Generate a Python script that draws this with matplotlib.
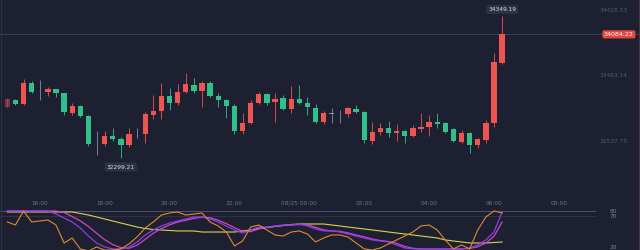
import numpy as np
import matplotlib
matplotlib.use("Agg")
import matplotlib.pyplot as plt
from matplotlib.lines import Line2D

# 15 minute candles, 15:00 -> 06:15
opens = [33039.9, 33136.6, 33078.9, 33386.3, 33252.1, 33252.1, 33291.1, 33233.3, 32953.3, 33050.0,
         32905.6, 32501.4, 32501.4, 32616.9, 32569.3, 32482.7, 32645.8, 32645.8, 32920.1, 32982.1,
         33194.3, 33097.6, 33247.8, 33353.1, 33270.9, 33377.7, 33194.3, 33136.6, 33050.0, 32693.4,
         32800.2, 33097.6, 33223.2, 33107.7, 33161.1, 33002.3, 33146.7, 33097.6, 33016.8, 32823.3,
         32944.6, 32944.6, 32934.5, 33002.3, 32967.7, 32549.1, 32679.0, 32728.1, 32655.9, 32693.4,
         32616.9, 32713.6, 32742.5, 32823.3, 32800.2, 32713.6, 32534.6, 32655.9, 32487.0, 32559.2,
         32800.2, 33666.4]
highs = [33165.5, 33151.0, 33435.4, 33415.2, 33425.3, 33324.3, 33302.6, 33242.0, 33089.0, 33064.4,
         32920.1, 32693.4, 32693.4, 32728.1, 32598.1, 32728.1, 32732.4, 32963.4, 33208.8, 33377.7,
         33309.8, 33367.6, 33530.7, 33449.9, 33415.2, 33415.2, 33233.3, 33151.0, 33078.9, 32944.6,
         33136.6, 33252.1, 33237.7, 33233.3, 33208.8, 33338.7, 33353.1, 33184.2, 33078.9, 32977.8,
         33016.8, 32992.2, 33039.9, 33064.4, 32985.0, 32823.3, 32800.2, 32837.8, 32790.1, 32710.7,
         32775.7, 32953.3, 32920.1, 32944.6, 32823.3, 32732.4, 32703.5, 32674.6, 32588.0, 32847.9,
         33810.8, 34349.19]
lows = [33021.1, 33064.4, 33064.4, 33237.7, 33136.6, 33194.3, 33179.9, 32920.1, 32924.4, 32891.2,
        32472.5, 32342.6, 32472.5, 32549.1, 32299.21, 32453.8, 32588.0, 32511.5, 32862.3, 32862.3,
        32992.2, 33064.4, 33233.3, 33233.3, 33031.2, 33175.6, 33039.9, 32872.4, 32645.8, 32645.8,
        32790.1, 33078.9, 33064.4, 32823.3, 32992.2, 32944.6, 33078.9, 32920.1, 32811.8, 32790.1,
        32800.2, 32800.2, 32895.5, 32948.9, 32511.5, 32501.4, 32631.3, 32598.1, 32549.1, 32511.5,
        32602.5, 32679.0, 32616.9, 32728.1, 32667.4, 32537.5, 32523.1, 32367.2, 32439.3, 32511.5,
        32751.2, 33656.3]
closes = [33146.7, 33078.9, 33386.3, 33252.1, 33247.8, 33291.1, 33233.3, 32963.4, 33050.0, 32905.6,
          32501.4, 32497.1, 32616.9, 32569.3, 32487.0, 32645.8, 32650.1, 32934.5, 32985.0, 33194.3,
          33097.6, 33256.4, 33367.6, 33270.9, 33377.7, 33194.3, 33136.6, 33050.0, 32693.4, 32808.9,
          33089.0, 33223.2, 33097.6, 33146.7, 33002.3, 33146.7, 33097.6, 33031.2, 32823.3, 32953.3,
          32940.3, 32948.9, 33016.8, 32963.4, 32559.2, 32679.0, 32728.1, 32664.5, 32693.4, 32616.9,
          32728.1, 32751.2, 32823.3, 32790.1, 32679.0, 32549.1, 32664.5, 32487.0, 32569.3, 32800.2,
          33689.5, 34084.22]

# indicator lines (same candles)
j_line = [62.2, 57.3, 80.0, 62.2, 63.8, 65.4, 57.3, 28.1, 36.2, 18.4,
          15.1, 21.6, 16.7, 16.7, 18.4, 26.5, 37.8, 52.4, 62.2, 73.5,
          76.8, 78.4, 73.5, 75.1, 76.8, 62.2, 55.7, 46.0, 23.2, 31.3,
          54.0, 57.3, 49.2, 41.1, 39.4, 45.9, 47.6, 42.7, 29.7, 36.2,
          41.1, 41.1, 37.8, 28.1, 18.4, 16.7, 20.0, 26.5, 33.0, 39.4,
          45.9, 55.7, 57.3, 49.2, 33.0, 18.4, 24.9, 18.4, 49.2, 70.3,
          80.0, 76.8]
k_line = [80.0, 80.0, 80.0, 80.0, 80.0, 80.0, 75.1, 68.6, 62.2, 52.4,
          39.4, 28.1, 21.6, 18.4, 18.4, 21.6, 29.7, 41.1, 49.2, 55.7,
          60.5, 63.8, 67.0, 70.3, 70.3, 67.0, 62.2, 55.7, 49.2, 44.3,
          49.2, 54.0, 54.0, 55.7, 57.3, 57.3, 58.9, 55.7, 50.8, 47.6,
          47.6, 45.9, 42.7, 39.4, 36.2, 33.0, 31.3, 29.7, 24.9, 20.0,
          18.4, 18.4, 18.4, 18.4, 18.4, 18.4, 18.4, 20.0, 24.9, 33.0,
          45.9, 78.4]
d_line = [80.0, 80.0, 80.0, 80.0, 80.0, 80.0, 80.0, 77.5, 71.0, 64.0,
          55.0, 44.0, 33.5, 25.5, 20.5, 19.5, 24.5, 34.0, 44.0, 51.5,
          57.5, 62.0, 65.0, 68.0, 70.0, 69.0, 65.0, 59.5, 53.0, 47.0,
          46.5, 51.0, 53.5, 55.0, 56.5, 57.3, 58.0, 57.5, 53.5, 49.5,
          47.6, 47.0, 44.5, 41.0, 38.0, 34.5, 32.0, 30.5, 27.5, 22.5,
          19.5, 18.4, 18.4, 18.4, 18.4, 18.4, 18.4, 19.0, 22.0, 28.0,
          39.0, 62.0]
ma_line = [78.4, 78.4, 78.4, 78.4, 78.4, 78.4, 78.4, 78.4, 78.4, 76.0,
           73.5, 70.3, 67.0, 63.8, 60.5, 57.3, 54.0, 51.6, 50.0, 49.2,
           48.4, 47.6, 47.6, 47.6, 45.9, 45.9, 45.9, 45.9, 45.9, 47.6,
           49.2, 51.6, 53.2, 54.9, 56.5, 58.1, 58.9, 58.9, 58.9, 58.9,
           57.3, 55.7, 54.0, 52.4, 50.8, 49.2, 47.6, 45.9, 44.3, 42.7,
           41.1, 39.4, 37.8, 36.2, 33.0, 31.3, 29.7, 28.1, 28.1, 28.1,
           28.9, 29.7]

time_ticks = [4, 12, 20, 28, 36, 44, 52, 60, 68]
time_labels = ["16:00", "18:00", "20:00", "22:00", "08/25 00:00", "02:00", "04:00", "06:00", "08:00"]
price_ticks = [34428.53, 33483.14, 32537.75]

bg = "#1c2030"
up_c = "#ee5450"
dn_c = "#32c08a"
doji_c = "#8a8f9c"
txt_c = "#6f7587"

fig = plt.figure(figsize=(6.4, 2.5), dpi=100, facecolor=bg)

# main price panel
ax = fig.add_axes([0, 0.172, 1, 0.828])
ax.set_facecolor(bg)
n = len(opens)
x = np.arange(n)
o = np.array(opens); h = np.array(highs); l = np.array(lows); c = np.array(closes)
cols = []
for oo, cc in zip(o, c):
    if abs(cc - oo) < 8:
        cols.append(doji_c)
    elif cc > oo:
        cols.append(up_c)
    else:
        cols.append(dn_c)
alphas = [0.45] + [1.0] * (n - 1)
for i in range(n):
    ax.vlines(x[i], l[i], h[i], color=cols[i], lw=0.6, alpha=alphas[i])
    body = max(abs(c[i] - o[i]), 6)
    ax.bar(x[i], body, bottom=min(o[i], c[i]), width=0.66, color=cols[i],
           alpha=alphas[i], linewidth=0)

ax.set_xlim(-0.9, 78.0)
ax.set_ylim(31592.0, 34580.2)
ax.axis("off")

# current price line + tag
last = closes[-1]
ax.axhline(last, color="#3a3f52", lw=0.7, zorder=0)
ax.text(0.967, last, f"{last:.2f}", transform=ax.get_yaxis_transform(), ha="center", va="center",
        fontsize=4.6, color="white",
        bbox=dict(boxstyle="round,pad=0.25,rounding_size=0.3", fc="#e3463e", ec="none"))

# right price labels
for p in price_ticks:
    ax.text(0.958, p, f"{p:.2f}", transform=ax.get_yaxis_transform(), ha="center", va="center",
            fontsize=4.2, color="#555b6d")

# time labels
for t, lab in zip(time_ticks, time_labels):
    ax.text(t, 0.019, lab, transform=ax.get_xaxis_transform(), ha="center", va="center",
            fontsize=4.2, color=txt_c)

# high / low markers
hi_i = int(np.argmax(h)); lo_i = int(np.argmin(l))
ax.annotate(f"{h[hi_i]:.2f}", xy=(x[hi_i], h[hi_i]), xytext=(x[hi_i], h[hi_i] + 95),
            ha="center", va="center", fontsize=4.2, color="#d4d8e2",
            bbox=dict(boxstyle="round,pad=0.35,rounding_size=0.3", fc="#2c3243", ec="none"))
ax.annotate(f"{l[lo_i]:.2f}", xy=(x[lo_i], l[lo_i]), xytext=(x[lo_i], l[lo_i] - 130),
            ha="center", va="center", fontsize=4.2, color="#d4d8e2",
            bbox=dict(boxstyle="round,pad=0.35,rounding_size=0.3", fc="#2c3243", ec="none"))

# indicator panel
ax2 = fig.add_axes([0, 0, 1, 0.172])
ax2.set_facecolor(bg)
ax2.set_xlim(-0.9, 78.0)
ax2.set_ylim(16.7, 86.5)
ax2.axis("off")
ax2.axhline(80, color="#4b5170", lw=0.7, xmax=0.93)
ax2.axhline(72, color="#30364a", lw=0.6, xmax=0.93)
ax2.plot(x, ma_line, color="#d8d44a", lw=0.8)
ax2.plot(x, d_line, color="#cf45c8", lw=0.9)
ax2.plot(x, k_line, color="#8b3fe6", lw=0.9)
ax2.plot(x, j_line, color="#e08a2c", lw=0.8)
for v, lab in [(80, "80"), (71, "70"), (20, "20")]:
    ax2.text(0.958, v, lab, transform=ax2.get_yaxis_transform(), ha="center", va="center",
             fontsize=4.2, color="#7b8194")

# thin frame lines at the edges
fig.add_artist(Line2D([0.002, 0.002], [0, 1], color="#2b3040", lw=0.8))
fig.add_artist(Line2D([0.998, 0.998], [0, 1], color="#4a3440", lw=0.8))

fig.savefig("out.png", dpi=100, facecolor=bg)
